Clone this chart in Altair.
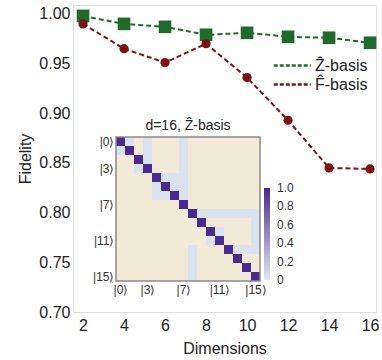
import altair as alt
import pandas as pd

# ---- main series ----
dims = [2, 4, 6, 8, 10, 12, 14, 16]
fid_z = [0.998, 0.990, 0.987, 0.979, 0.981, 0.977, 0.976, 0.971]
fid_f = [0.990, 0.965, 0.951, 0.970, 0.936, 0.893, 0.845, 0.844]
series_names = ["Ẑ-basis", "F̂-basis"]
series_colors = ["#1f6a2c", "#7a1414"]
series_shapes = ["square", "circle"]
series_sizes = [160, 85]
y_ticks = [0.70, 0.75, 0.80, 0.85, 0.90, 0.95, 1.00]
x_ticks = [2, 4, 6, 8, 10, 12, 14, 16]

# ---- inset density matrix (d = 16) ----
n_dim = 16
diag_value = 1.0
block_r0 = [0, 0, 1, 3, 4, 8, 8, 12, 12, 10, 0]
block_r1 = [3, 6, 1, 3, 6, 8, 12, 15, 12, 11, 0]
block_c0 = [3, 7, 0, 2, 4, 9, 15, 8, 12, 10, 1]
block_c1 = [3, 7, 0, 2, 6, 15, 15, 8, 15, 11, 1]
block_val = [0.03, 0.03, 0.035, 0.025, 0.025, 0.025, 0.025, 0.025, 0.022, 0.022, 0.03]
ket_ticks = [0, 3, 7, 11, 15]
cbar_values = [0, 0.2, 0.4, 0.6, 0.8, 1.0]
cbar_labels = ["0", "0.2", "0.4", "0.6", "0.8", "1.0"]
inset_title = "d=16, Ẑ-basis"

FONT = "Liberation Sans"
BEIGE = "#f2ead6"

# ---- build tables ----
main_df = pd.DataFrame({
    "dim": dims * 2,
    "fid": fid_z + fid_f,
    "series": [series_names[0]] * len(dims) + [series_names[1]] * len(dims),
})

mat = [[0.0] * n_dim for _ in range(n_dim)]
for r0, r1, c0, c1, v in zip(block_r0, block_r1, block_c0, block_c1, block_val):
    for r in range(r0, r1 + 1):
        for c in range(c0, c1 + 1):
            mat[r][c] = max(mat[r][c], v)
for i in range(n_dim):
    mat[i][i] = diag_value
heat_rows = []
for r in range(n_dim):
    for c in range(n_dim):
        heat_rows.append({"r0": r, "r1": r + 1, "c0": c, "c1": c + 1, "v": mat[r][c]})
heat_df = pd.DataFrame(heat_rows)
frame_df = pd.DataFrame({"a0": [0], "a1": [n_dim], "b0": [0], "b1": [n_dim]})
title_df = pd.DataFrame({"tx": [n_dim / 2], "ty": [0], "label": [inset_title]})
cbar_df = pd.DataFrame({"cv": cbar_values, "lab": cbar_labels, "cx": [0] * len(cbar_values)})

# ---- main plot ----
xs = alt.Scale(domain=[1.51, 16.29], nice=False, zero=False)
ys = alt.Scale(domain=[0.70, 1.009], nice=False, zero=False)

x_enc = alt.X("dim:Q", scale=xs, axis=alt.Axis(
    values=x_ticks, title="Dimensions", grid=False, ticks=False, domain=False,
    labelFontSize=16, labelPadding=5, titleFontSize=16, titleFontWeight="normal",
    titlePadding=7, labelFont=FONT, titleFont=FONT, labelColor="#222", titleColor="#222"))
y_enc = alt.Y("fid:Q", scale=ys, axis=alt.Axis(
    values=y_ticks, format=".2f", title="Fidelity", grid=False, ticks=False, domain=False,
    labelFontSize=16, labelPadding=3, titleFontSize=16, titleFontWeight="normal",
    titlePadding=5, labelFont=FONT, titleFont=FONT, labelColor="#222", titleColor="#222"))

lines = alt.Chart(main_df).mark_line(strokeDash=[5, 3], strokeWidth=2).encode(
    x=x_enc, y=y_enc,
    color=alt.Color("series:N", sort=series_names,
                    scale=alt.Scale(domain=series_names, range=series_colors),
                    legend=alt.Legend(title=None, orient="none", legendX=218, legendY=50,
                                      padding=0, symbolType="M-3,0H1", symbolDash=[4, 2],
                                      symbolStrokeWidth=2.5, symbolSize=342,
                                      labelFontSize=16, labelFont=FONT,
                                      labelColor="#222", rowPadding=-1, labelOffset=3)),
    detail="series:N",
)
points = alt.Chart(main_df).mark_point(filled=True, opacity=1).encode(
    x="dim:Q", y="fid:Q",
    fill=alt.Fill("series:N", scale=alt.Scale(domain=series_names, range=series_colors), legend=None),
    shape=alt.Shape("series:N", scale=alt.Scale(domain=series_names, range=series_shapes), legend=None),
    size=alt.Size("series:N", scale=alt.Scale(domain=series_names, range=series_sizes), legend=None),
)
main = alt.layer(lines, points)

# ---- inset ----
hx = alt.Scale(domain=[0, n_dim], range=[43, 187], nice=False, zero=False)
hy = alt.Scale(domain=[0, n_dim], range=[132, 276], nice=False, zero=False)
ket_expr = "'|' + (datum.value - 0.5) + '⟩'"
ket_vals = [k + 0.5 for k in ket_ticks]

heat = alt.Chart(heat_df).mark_rect(strokeWidth=0).encode(
    x=alt.X("c0:Q", scale=hx, axis=alt.Axis(
        orient="bottom", offset=-31, values=ket_vals, labelExpr=ket_expr, title=None,
        grid=False, ticks=False, domain=False, labelFontSize=12, labelPadding=3,
        labelFont=FONT, labelColor="#333")),
    x2="c1:Q",
    y=alt.Y("r0:Q", scale=hy, axis=alt.Axis(
        orient="left", offset=-43, values=ket_vals, labelExpr=ket_expr, title=None,
        grid=False, ticks=False, domain=False, labelFontSize=12, labelPadding=2,
        labelFont=FONT, labelColor="#333")),
    y2="r1:Q",
    color=alt.condition(
        "datum.v == 0",
        alt.value(BEIGE),
        alt.Color("v:Q", scale=alt.Scale(domain=[0, 1], range=["#dfe7f1", "#4a2a8d"],
                                         interpolate="rgb"),
                  legend=alt.Legend(title=None, orient="none", legendX=191, legendY=183,
                                    direction="vertical", gradientLength=92,
                                    gradientThickness=6, labelOpacity=0,
                                    labelExpr="''", gradientStrokeWidth=0)),
    ),
)
frame = alt.Chart(frame_df).mark_rect(filled=False, stroke="#8a8a8a", strokeWidth=1.5).encode(
    x="a0:Q", x2="a1:Q", y="b0:Q", y2="b1:Q")
ititle = alt.Chart(title_df).mark_text(baseline="bottom", dy=-4, fontSize=14, font=FONT,
                                       color="#222").encode(
    x="tx:Q", y="ty:Q", text="label:N")
inset = alt.layer(heat, frame, ititle)

# ---- colour-bar labels (own scale aligned with the gradient legend) ----
cbar_text = alt.Chart(cbar_df).mark_text(align="left", baseline="middle", fontSize=12,
                                         font=FONT, color="#333").encode(
    x=alt.X("cx:Q", scale=alt.Scale(domain=[0, 1], range=[204, 214]), axis=None),
    y=alt.Y("cv:Q", scale=alt.Scale(domain=[0, 1], range=[275, 183]), axis=None),
    text="lab:N",
)

chart = alt.layer(main, inset, cbar_text).resolve_scale(
    x="independent", y="independent", color="independent"
).properties(
    width=303, height=307,
    autosize=alt.AutoSizeParams(type="none"),
    padding={"left": 73, "top": 5, "right": 6, "bottom": 48},
).configure_view(stroke="#555", strokeWidth=1.5).configure(background="white")

chart.save("out.html", embed_options={"renderer": "svg", "actions": False})
